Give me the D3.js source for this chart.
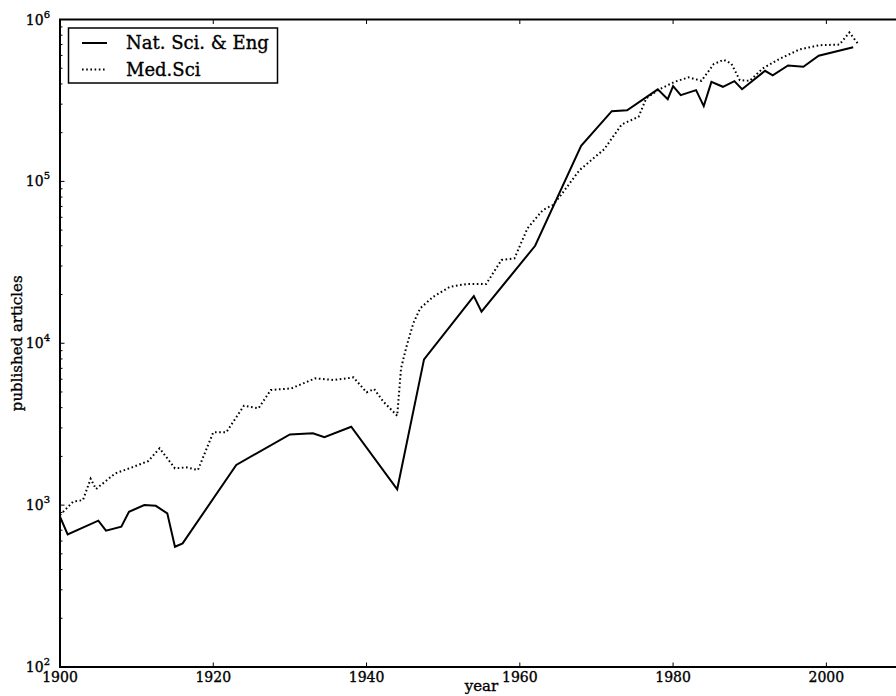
<!DOCTYPE html>
<html>
<head>
<meta charset="utf-8">
<script src="https://cdn.jsdelivr.net/npm/d3@7"></script>
<style>
  html, body { margin: 0; padding: 0; background: #fff; }
  svg { display: block; }
  text { font-family: "DejaVu Serif", serif; fill: #000; stroke: #000; stroke-width: 0.35px; }
</style>
</head>
<body>
<div id="chart"></div>
<script>
// Natural sciences & engineering articles per year
const natYears = [1900, 1901, 1905, 1906, 1908, 1909, 1911, 1912.5, 1914, 1915, 1916, 1923,
  1930, 1933, 1934.5, 1938, 1944, 1947.5, 1954, 1955, 1962, 1968, 1972, 1974, 1978, 1979.3,
  1980, 1981, 1983, 1984, 1985, 1986.5, 1988, 1989, 1992, 1993, 1995, 1997, 1999, 2003.5];
const natValues = [848, 660, 802, 695, 736, 910, 1000, 990, 889, 553, 580, 1771,
  2735, 2775, 2624, 3048, 1253, 7946, 19580, 15660, 40000, 166000, 271600, 275000, 370000, 322000,
  388000, 341000, 366000, 291700, 412000, 384000, 416000, 371000, 482000, 452000, 520000, 511000, 597000, 673000];

// Medical sciences articles per year
const medYears = [1900, 1901.7, 1903, 1904, 1904.7, 1907.2, 1909.4, 1911.5, 1913, 1915, 1916.5, 1918,
  1920, 1921.7, 1924, 1925.9, 1927.5, 1930.2, 1933.3, 1935.7, 1938.3, 1940, 1941, 1942.2, 1944,
  1944.5, 1945.2, 1946.1, 1947, 1948.7, 1950.9, 1953, 1955.6, 1957.6, 1959.3, 1961, 1963, 1964.3,
  1965.2, 1967.8, 1971, 1973.3, 1975.5, 1976.5, 1978, 1980.2, 1982, 1983.7, 1985.3, 1986.6, 1987.6,
  1988.7, 1990, 1991.7, 1994, 1996.5, 1999.1, 2001.7, 2003, 2004.1];
const medValues = [869, 1049, 1075, 1455, 1257, 1571, 1711, 1870, 2244, 1687, 1711, 1648,
  2818, 2818, 4110, 3963, 5140, 5265, 6070, 5930, 6150, 4977, 5210, 4355, 3565,
  7000, 9500, 13280, 16440, 19370, 22340, 23200, 23200, 32660, 33450, 51280, 66500, 71400,
  80300, 117500, 157800, 224800, 250600, 326000, 366000, 412000, 439000, 418000, 530000, 564000, 534000,
  422000, 418000, 499000, 575000, 653000, 694000, 700000, 832000, 711000];

const xTicks = [1900, 1920, 1940, 1960, 1980, 2000];
const yTickExps = [2, 3, 4, 5, 6];
const seriesNames = ["Nat. Sci. & Eng", "Med.Sci"];

const W = 896, H = 696;
const margin = { left: 60, top: 19.5, right: 903, bottom: 667 };

const svg = d3.select("#chart").append("svg")
  .attr("width", W).attr("height", H);

const x = d3.scaleLinear().domain([1900, 2010]).range([margin.left, margin.right]);
const y = d3.scaleLog().domain([100, 1e6]).range([margin.bottom, margin.top]);

svg.append("clipPath").attr("id", "plotclip")
  .append("rect")
  .attr("x", margin.left).attr("y", margin.top)
  .attr("width", margin.right - margin.left).attr("height", margin.bottom - margin.top);

const line = d3.line().x(d => x(d[0])).y(d => y(d[1]));

const natData = natYears.map((yr, i) => [yr, natValues[i]]);
const medData = medYears.map((yr, i) => [yr, medValues[i]]);

const plot = svg.append("g").attr("clip-path", "url(#plotclip)");

plot.append("path").datum(natData)
  .attr("d", line)
  .attr("fill", "none").attr("stroke", "#000")
  .attr("stroke-width", 2).attr("stroke-linejoin", "miter");

plot.append("path").datum(medData)
  .attr("d", line)
  .attr("fill", "none").attr("stroke", "#000")
  .attr("stroke-width", 2)
  .attr("stroke-dasharray", "1.6,2.6");

// y axis: major decade ticks and minor log ticks, drawn inward
const minor = [];
for (let e = 2; e < 6; e++) for (let m = 2; m <= 9; m++) minor.push(m * Math.pow(10, e));

const yAxis = svg.append("g");
yAxis.selectAll("line.minor").data(minor).join("line")
  .attr("x1", margin.left).attr("x2", margin.left + 2.5)
  .attr("y1", d => y(d)).attr("y2", d => y(d))
  .attr("stroke", "#000").attr("stroke-width", 1);
yAxis.selectAll("line.major").data(yTickExps).join("line")
  .attr("x1", margin.left).attr("x2", margin.left + 4.5)
  .attr("y1", d => y(Math.pow(10, d))).attr("y2", d => y(Math.pow(10, d)))
  .attr("stroke", "#000").attr("stroke-width", 1);

const yLabels = yAxis.selectAll("text.tick").data(yTickExps).join("text")
  .attr("x", margin.left - 10)
  .attr("y", d => y(Math.pow(10, d)) + 5)
  .attr("text-anchor", "end")
  .attr("font-size", 14);
yLabels.append("tspan").text("10");
yLabels.append("tspan").attr("dy", -7).attr("font-size", 10).text(d => d);

// x axis ticks on bottom and top, drawn inward
const xAxis = svg.append("g");
xAxis.selectAll("line.b").data(xTicks).join("line")
  .attr("x1", d => x(d)).attr("x2", d => x(d))
  .attr("y1", margin.bottom).attr("y2", margin.bottom - 4.5)
  .attr("stroke", "#000").attr("stroke-width", 1);
xAxis.selectAll("line.t").data(xTicks).join("line")
  .attr("x1", d => x(d)).attr("x2", d => x(d))
  .attr("y1", margin.top).attr("y2", margin.top + 4.5)
  .attr("stroke", "#000").attr("stroke-width", 1);
xAxis.selectAll("text").data(xTicks).join("text")
  .attr("x", d => x(d))
  .attr("y", margin.bottom + 15)
  .attr("text-anchor", "middle")
  .attr("font-size", 14)
  .text(d => d);

// frame
svg.append("rect")
  .attr("x", margin.left).attr("y", margin.top)
  .attr("width", margin.right - margin.left).attr("height", margin.bottom - margin.top)
  .attr("fill", "none").attr("stroke", "#000").attr("stroke-width", 2);

// axis titles
svg.append("text")
  .attr("x", (margin.left + margin.right) / 2)
  .attr("y", 691)
  .attr("text-anchor", "middle")
  .attr("font-size", 15)
  .text("year");
svg.append("text")
  .attr("transform", `translate(22,${(margin.top + margin.bottom) / 2}) rotate(-90)`)
  .attr("text-anchor", "middle")
  .attr("font-size", 15)
  .text("published articles");

// legend
const leg = svg.append("g");
leg.append("rect")
  .attr("x", 68.5).attr("y", 28).attr("width", 209).attr("height", 55)
  .attr("fill", "#fff").attr("stroke", "#000").attr("stroke-width", 1.5);
const legRows = [
  { name: seriesNames[0], dash: null, cy: 43 },
  { name: seriesNames[1], dash: "1.6,2.6", cy: 69.5 }
];
legRows.forEach(r => {
  const l = leg.append("line")
    .attr("x1", 82).attr("x2", 107).attr("y1", r.cy).attr("y2", r.cy)
    .attr("stroke", "#000").attr("stroke-width", 2);
  if (r.dash) l.attr("stroke-dasharray", r.dash);
  leg.append("text")
    .attr("x", 126).attr("y", r.cy + 6)
    .attr("font-size", 18)
    .text(r.name);
});
</script>
</body>
</html>
